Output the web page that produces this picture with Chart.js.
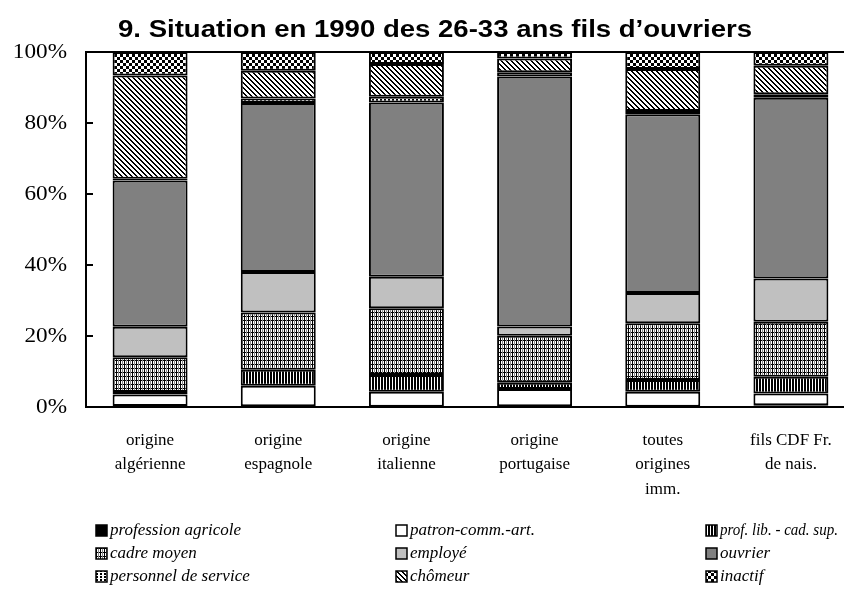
<!DOCTYPE html>
<html><head><meta charset="utf-8">
<script src="https://cdn.jsdelivr.net/npm/chart.js@4"></script>
<style>html,body{margin:0;padding:0;overflow:hidden;background:#fff}#wrap{width:844px;height:589px;overflow:hidden;position:relative}canvas{display:block}</style>
</head><body><div id="wrap"><canvas id="c" width="870" height="589"></canvas></div>
<script>
const categories = [["origine","algérienne"],["origine","espagnole"],["origine","italienne"],["origine","portugaise"],["toutes","origines","imm."],["fils CDF Fr.","de nais."]];
const seriesNames = ["profession agricole","patron-comm.-art.","prof. lib. - cad. sup.","cadre moyen","employé","ouvrier","personnel de service","chômeur","inactif"];
const professionAgricole = [0.3,0.2,0.1,0.2,0.1,0.5];
const patronCommArt      = [3.2,5.8,4.2,4.9,4.2,3.3];
const profLibCadSup      = [0.7,4.5,4.7,1.7,3.3,4.7];
const cadreMoyen         = [9.8,16.1,18.8,13.3,16.0,15.5];
const employe            = [8.6,11.4,8.9,2.6,8.5,12.2];
const ouvrier            = [41.2,47.6,49.1,70.4,50.4,50.9];
const personnelService   = [0.5,1.3,1.6,1.2,0.9,1.0];
const chomeur            = [29.1,7.8,9.2,3.9,11.8,8.0];
const inactif            = [6.6,5.3,3.4,1.8,4.8,3.9];
const yTicks = [0,20,40,60,80,100];
const titleText = "9. Situation en 1990 des 26-33 ans fils d\u2019ouvriers";

function makePattern(w,h,fn){
  const c=document.createElement('canvas');c.width=w;c.height=h;
  const x=c.getContext('2d');x.fillStyle='#fff';x.fillRect(0,0,w,h);
  fn(x,w,h);
  return document.getElementById('c').getContext('2d').createPattern(c,'repeat');
}
const fills = [
  '#000000',
  '#ffffff',
  makePattern(3,1,(x)=>{x.fillStyle='#000';x.fillRect(0,0,2,1);}),
  makePattern(4,4,(x)=>{x.fillStyle='#000';x.fillRect(0,0,4,1);x.fillRect(0,0,1,4);x.fillStyle='#888';x.fillRect(2,0,1,4);}),
  '#c0c0c0',
  '#808080',
  makePattern(4,3,(x)=>{x.fillStyle='#000';x.fillRect(0,0,2,2);}),
  makePattern(5,5,(x)=>{x.fillStyle='#000';for(let yy=0;yy<5;yy++)for(let xx=0;xx<5;xx++){const d=((xx-yy)%5+5)%5;if(d<2)x.fillRect(xx,yy,1,1);}}),
  makePattern(6,6,(x)=>{x.fillStyle='#000';x.fillRect(0,0,3,3);x.fillRect(3,3,3,3);})
];
const seriesData=[professionAgricole,patronCommArt,profLibCadSup,cadreMoyen,employe,ouvrier,personnelService,chomeur,inactif];

const datasets = seriesNames.map((n,i)=>({label:n,data:seriesData[i],backgroundColor:fills[i],borderColor:'#000',borderWidth:2,borderSkipped:false,barPercentage:0.585,categoryPercentage:1}));

function stretchedText(ctx,text,x,y,sx,align){
  ctx.save();ctx.translate(x,y);ctx.scale(sx,1);ctx.textAlign=align;ctx.fillText(text,0,0);ctx.restore();
}

const deco = {
  id:'deco',
  afterDraw(chart){
    const ctx=chart.ctx, a=chart.chartArea, y=chart.scales.y;
    ctx.save();
    ctx.strokeStyle='#000';ctx.lineWidth=2;
    ctx.strokeRect(a.left,a.top,a.right-a.left,a.bottom-a.top);
    ctx.fillStyle='#000';ctx.textBaseline='middle';
    ctx.font='20px "Liberation Serif", "Times New Roman", serif';
    yTicks.forEach(v=>{
      const py=Math.round(y.getPixelForValue(v));
      ctx.beginPath();ctx.moveTo(a.left,py);ctx.lineTo(a.left+7,py);ctx.stroke();
      stretchedText(ctx,v+'%',67,py+1,1.16,'right');
    });
    ctx.font='bold 23px "Liberation Sans", Arial, sans-serif';
    const tw=ctx.measureText(titleText).width;
    stretchedText(ctx,titleText,435,31,634/tw,'center');
    const cols=[96,396,706], rows=[531,554,577];
    ctx.font='italic 17px "Liberation Serif", "Times New Roman", serif';ctx.textAlign='left';
    seriesNames.forEach((n,i)=>{
      const cx=cols[i%3], cy=rows[Math.floor(i/3)];
      ctx.fillStyle=fills[i];ctx.fillRect(cx,cy-6,11,11);
      ctx.lineWidth=1.5;ctx.strokeStyle='#000';ctx.strokeRect(cx,cy-6,11,11);
      ctx.fillStyle='#000';ctx.fillText(n,cx+14,cy,(i%3===2)?118:400);
    });
    ctx.restore();
  }
};

new Chart(document.getElementById('c'),{
  type:'bar',
  data:{labels:categories,datasets},
  options:{
    responsive:false,animation:false,devicePixelRatio:1,
    layout:{padding:{top:52,right:15,left:0,bottom:0}},
    plugins:{legend:{display:false},title:{display:false},tooltip:{enabled:false}},
    scales:{
      x:{stacked:true,grid:{display:false,drawTicks:false},border:{display:true,color:'#000',width:2},
         ticks:{color:'#000',padding:21,maxRotation:0,autoSkip:false,font:{family:'"Liberation Serif", "Times New Roman", serif',size:17,lineHeight:1.44}},
         afterFit(s){s.height=182;}},
      y:{stacked:true,min:0,max:100,grid:{display:false,drawTicks:false},border:{display:true,color:'#000',width:2},
         afterBuildTicks(s){s.ticks=yTicks.map(v=>({value:v}));},
         ticks:{display:false},
         afterFit(s){s.width=86;}}
    }
  },
  plugins:[deco]
});
</script></body></html>
